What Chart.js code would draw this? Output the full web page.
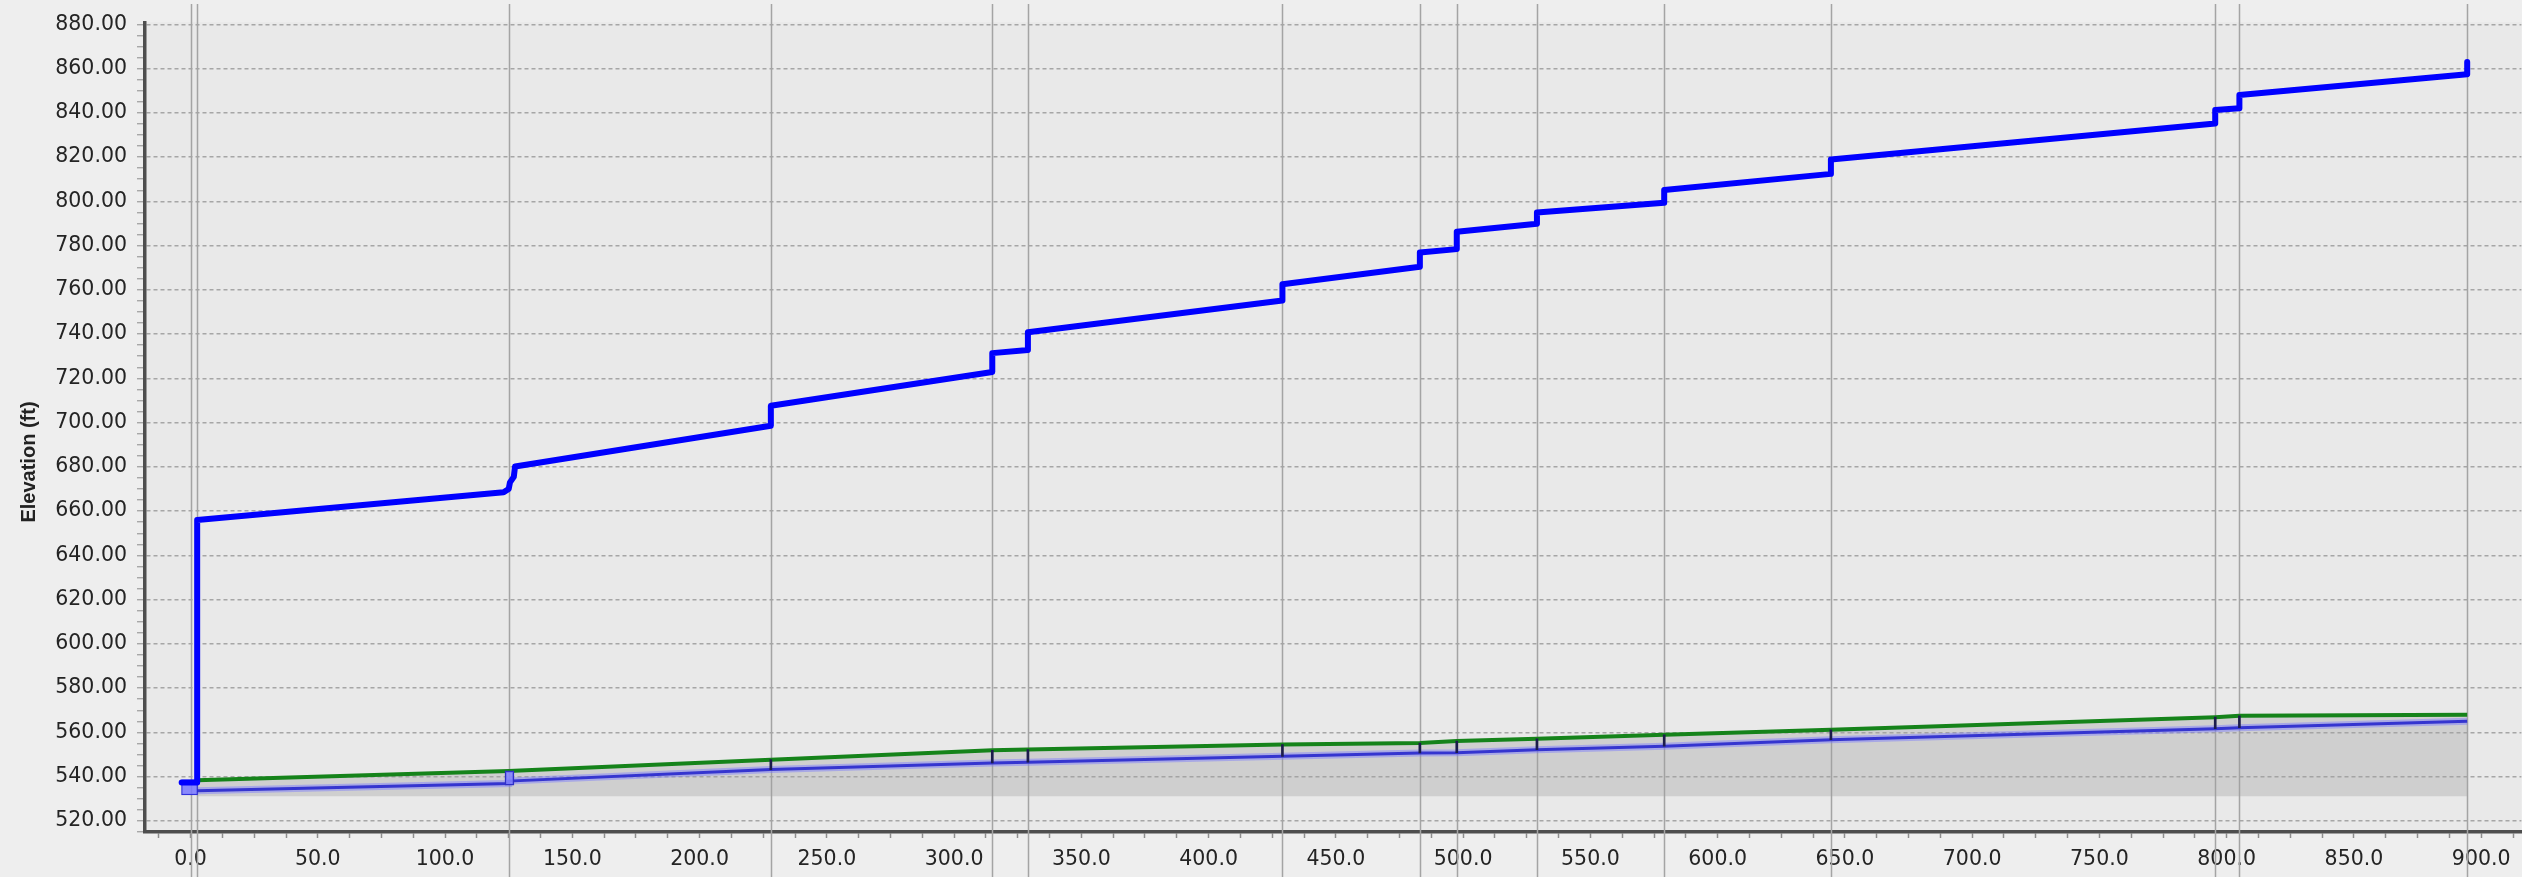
<!DOCTYPE html>
<html>
<head>
<meta charset="utf-8">
<script src="https://cdn.jsdelivr.net/npm/chart.js@4.4.1/dist/chart.umd.min.js"></script>
<style>
  html, body { margin: 0; padding: 0; background: #eeeeee; }
  #wrap { width: 2522px; height: 877px; }
</style>
</head>
<body>
<div id="wrap"><canvas id="profile" width="2522" height="877"></canvas></div>
<script>
// stations (ft) of the structures along the run
const nodeStations = [0, 2.6, 125, 228, 315, 329, 429, 483, 497.5, 529, 579, 644.5, 795.5, 805, 894.5];

// hydraulic grade line
const hglStation = [-3.5, 2.6, 2.6, 123, 125, 125.5, 127, 127.5, 228, 228, 315, 315, 329, 329,
  429, 429, 483, 483, 497.5, 497.5, 529, 529, 579, 579, 644.5, 644.5, 795.5, 795.5, 805, 805, 894.5, 894.5];
const hglElev = [537.4, 537.4, 656, 668.5, 670, 673, 675.5, 680.2, 698.6, 707.6, 722.9, 731.4, 732.8, 740.8,
  755.2, 762.5, 770.4, 776.9, 778.4, 786.3, 789.9, 795, 799.4, 805.1, 812.4, 818.9, 835.2, 841.3, 842.1, 848, 857.4, 863];

// ground surface
const groundStation = [2.6, 125, 228, 315, 329, 429, 483, 497.5, 529, 579, 644.5, 795.5, 805, 894.5];
const groundElev = [538.4, 542.6, 547.7, 551.9, 552.3, 554.5, 555.2, 556.1, 557.1, 558.9, 561.2, 566.9, 567.5, 568];

// pipe invert
const invertStation = [2.6, 125, 125, 228, 315, 329, 429, 483, 497.5, 529, 579, 644.5, 795.5, 805, 894.5];
const invertElev = [533.6, 536.9, 538, 543.2, 546.2, 546.5, 549.2, 550.7, 550.8, 552.2, 553.8, 556.7, 561.7, 562.1, 565.1];

const fillBase = 531.2;

// outlet box and junction box (bottom, top)
const outletBox = { station: -0.4, bottom: 531.7, top: 538.6 };
const junctionBox = { station: 125.3, bottom: 536.2, top: 542.6 };

// manhole walls between invert and ground
const manholeStation = [228, 315, 329, 429, 483, 497.5, 529, 579, 644.5, 795.5, 805];
const manholeBottom = [543.2, 546.2, 546.5, 549.2, 550.7, 550.8, 552.2, 553.8, 556.7, 561.7, 562.1];
const manholeTop = [547.7, 551.9, 552.3, 554.5, 555.2, 556.1, 557.1, 558.9, 561.2, 566.9, 567.5];

const xMin = -17.9, xMax = 915.8;
const yMin = 515, yMax = 880.9;
const yTitle = 'Elevation (ft)';

function zipPoints(xs, ys) {
  return xs.map((x, i) => ({ x: x, y: ys[i] }));
}

const plotBackground = {
  id: 'plotBackground',
  beforeDraw(chart) {
    const { ctx, chartArea: a } = chart;
    ctx.save();
    ctx.fillStyle = '#e9e9e9';
    ctx.fillRect(a.left, a.top, a.right - a.left, a.bottom - a.top);
    ctx.restore();
  }
};

// solid verticals at each structure, running past the plot top and through the labels
const nodeLines = {
  id: 'nodeLines',
  beforeDatasetsDraw(chart) {
    const { ctx, scales: { x } } = chart;
    ctx.save();
    ctx.strokeStyle = '#a4a4a4';
    ctx.lineWidth = 1.5;
    nodeStations.forEach(s => {
      const px = Math.round(x.getPixelForValue(s)) + 0.5;
      ctx.beginPath();
      ctx.moveTo(px, 4);
      ctx.lineTo(px, chart.height);
      ctx.stroke();
    });
    ctx.restore();
  }
};

// rotated y title, sitting a little below the middle of the axis
const axisTitle = {
  id: 'axisTitle',
  afterDraw(chart) {
    const { ctx } = chart;
    ctx.save();
    ctx.translate(29, 462);
    ctx.rotate(-Math.PI / 2);
    ctx.font = "bold 20px 'Liberation Sans', Arial, sans-serif";
    ctx.fillStyle = '#222222';
    ctx.textAlign = 'center';
    ctx.textBaseline = 'middle';
    ctx.fillText(yTitle, 0, 0);
    ctx.restore();
  }
};

Chart.defaults.font.family = "'DejaVu Sans', Verdana, sans-serif";
Chart.defaults.font.size = 20.5;
Chart.defaults.color = '#242424';

new Chart(document.getElementById('profile'), {
  type: 'line',
  data: {
    datasets: [
      {
        label: 'HGL',
        data: zipPoints(hglStation, hglElev),
        borderColor: '#0000ff',
        borderWidth: 6,
        borderJoinStyle: 'round',
        borderCapStyle: 'round',
        pointRadius: 0,
        order: 0
      },
      {
        type: 'bar',
        label: 'Outlet',
        data: [{ x: outletBox.station, y: [outletBox.bottom, outletBox.top] }],
        backgroundColor: 'rgba(120,120,255,0.85)',
        borderColor: '#2020d0',
        borderWidth: 1,
        borderSkipped: false,
        barThickness: 16,
        grouped: false,
        order: 1
      },
      {
        type: 'bar',
        label: 'Junction',
        data: [{ x: junctionBox.station, y: [junctionBox.bottom, junctionBox.top] }],
        backgroundColor: 'rgba(130,130,255,0.85)',
        borderColor: '#3030c8',
        borderWidth: 1.5,
        borderSkipped: false,
        barThickness: 9,
        grouped: false,
        order: 1
      },
      {
        type: 'bar',
        label: 'Manholes',
        data: manholeStation.map((s, i) => ({ x: s, y: [manholeBottom[i], manholeTop[i]] })),
        backgroundColor: '#1c1c4c',
        barThickness: 2,
        grouped: false,
        order: 1
      },
      {
        label: 'Invert',
        data: zipPoints(invertStation, invertElev),
        borderColor: '#3535cf',
        borderWidth: 3,
        pointRadius: 0,
        order: 2
      },
      {
        label: 'Invert halo',
        data: zipPoints(invertStation, invertElev),
        borderColor: 'rgba(120,120,255,0.45)',
        borderWidth: 7,
        pointRadius: 0,
        order: 3
      },
      {
        label: 'Ground',
        data: zipPoints(groundStation, groundElev),
        borderColor: '#15831a',
        borderWidth: 4,
        pointRadius: 0,
        fill: { value: fillBase },
        backgroundColor: 'rgba(160,160,160,0.35)',
        order: 4
      }
    ]
  },
  options: {
    responsive: false,
    animation: false,
    devicePixelRatio: 1,
    layout: { padding: { top: 18, right: 0, left: 0, bottom: 0 } },
    plugins: {
      legend: { display: false },
      tooltip: { enabled: false }
    },
    scales: {
      x: {
        type: 'linear',
        min: xMin,
        max: xMax,
        offset: false,
        afterBuildTicks(scale) {
          const ticks = [];
          for (let v = -12.5; v <= 912.5; v += 12.5) ticks.push({ value: v });
          scale.ticks = ticks;
        },
        afterFit(scale) { scale.height = 45; },
        ticks: {
          autoSkip: false,
          maxRotation: 0,
          padding: 9,
          callback: v => (v % 50 === 0 ? v.toFixed(1) : '')
        },
        grid: {
          offset: false,
          drawOnChartArea: false,
          drawTicks: true,
          tickLength: 6,
          tickWidth: 1.5,
          tickColor: '#8c8c8c'
        },
        border: { display: true, color: '#4e4e4e', width: 3.5 }
      },
      y: {
        type: 'linear',
        min: yMin,
        max: yMax,
        afterBuildTicks(scale) {
          const ticks = [];
          for (let v = 515; v <= 880; v += 5) ticks.push({ value: v });
          scale.ticks = ticks;
        },
        afterFit(scale) { scale.width = 145; },
        ticks: {
          autoSkip: false,
          padding: 10,
          callback: v => (v % 20 === 0 ? v.toFixed(2) : '')
        },
        grid: {
          color: ctx => (ctx.tick && ctx.tick.value % 20 === 0 ? '#a6a6a6' : 'rgba(0,0,0,0)'),
          lineWidth: 1.5,
          tickLength: 8,
          tickWidth: 1.2,
          tickColor: '#9a9a9a'
        },
        border: { display: true, color: '#4e4e4e', width: 3.5, dash: [4, 3] }
      }
    }
  },
  plugins: [plotBackground, nodeLines, axisTitle]
});
</script>
</body>
</html>
